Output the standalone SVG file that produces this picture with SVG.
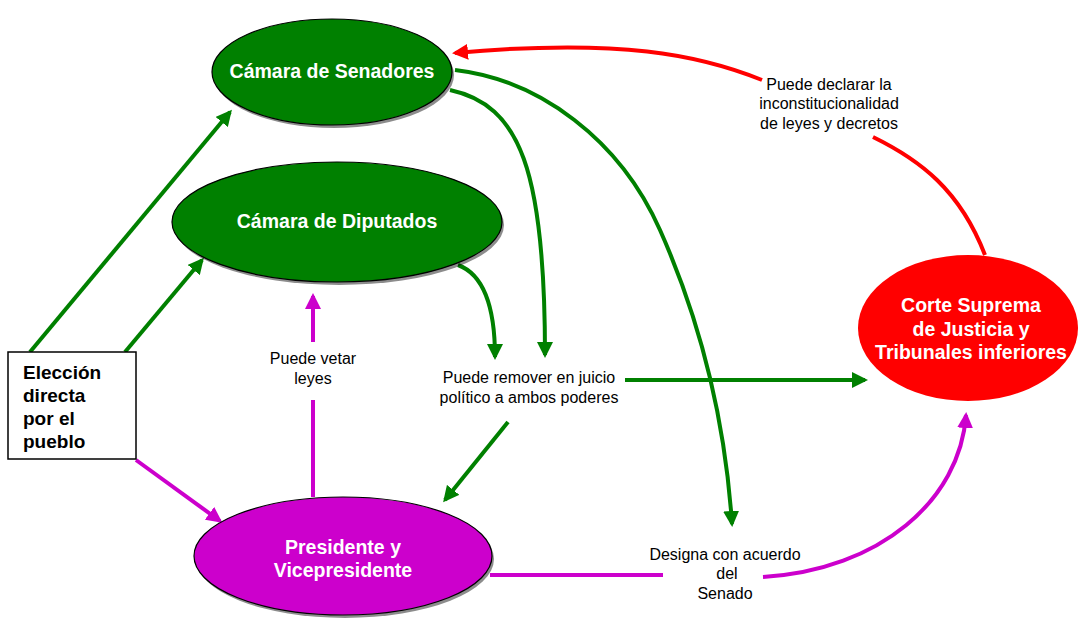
<svg xmlns="http://www.w3.org/2000/svg" width="1078" height="619" viewBox="0 0 1078 619">
<style>
.node{font-family:"Liberation Sans",Arial,sans-serif;font-weight:bold;font-size:19.5px;fill:#fff;text-anchor:middle}
.box{font-family:"Liberation Sans",Arial,sans-serif;font-weight:bold;font-size:19px;fill:#000}
.lbl{font-family:"Liberation Sans",Arial,sans-serif;font-size:16px;fill:#000;text-anchor:middle}
.g{stroke:#008000;stroke-width:4;fill:none}
.m{stroke:#cc00cc;stroke-width:4;fill:none}
.r{stroke:#ff0000;stroke-width:4;fill:none}
.sh{fill:#000;opacity:0.45}
</style>
<defs>
<marker id="ag" markerUnits="userSpaceOnUse" markerWidth="16" markerHeight="16" viewBox="0 0 16 16" refX="13" refY="8" orient="auto"><path d="M0,0 L16,8 L0,16 z" fill="#008000"/></marker>
<marker id="am" markerUnits="userSpaceOnUse" markerWidth="16" markerHeight="16" viewBox="0 0 16 16" refX="13" refY="8" orient="auto"><path d="M0,0 L16,8 L0,16 z" fill="#cc00cc"/></marker>
<marker id="ar" markerUnits="userSpaceOnUse" markerWidth="16" markerHeight="16" viewBox="0 0 16 16" refX="13" refY="8" orient="auto"><path d="M0,0 L16,8 L0,16 z" fill="#ff0000"/></marker>
</defs>
<rect width="1078" height="619" fill="#fff"/>

<g id="connectors">
<path class="g" d="M30,352 L230,112" marker-end="url(#ag)"/>
<path class="g" d="M125,352 L202,260" marker-end="url(#ag)"/>
<path class="m" d="M136,460 L220,521" marker-end="url(#am)"/>
<path class="m" d="M313,497 L313,400"/>
<path class="m" d="M313,342 L313,296" marker-end="url(#am)"/>
<path class="g" d="M458,265 C485,275 495,310 495,357" marker-end="url(#ag)"/>
<path class="g" d="M450,90 C520,105 545,170 545,355" marker-end="url(#ag)"/>
<path class="g" d="M455,70 C540,80 620,140 660,230 C700,320 725,420 732,524" marker-end="url(#ag)"/>
<path class="g" d="M625,380 L865,380" marker-end="url(#ag)"/>
<path class="g" d="M508,422 L445,500" marker-end="url(#ag)"/>
<path class="m" d="M490,575 L663,575"/>
<path class="m" d="M763,577 C880,570 960,500 966,415" marker-end="url(#am)"/>
<path class="r" d="M985,255 C960,190 920,160 873,137"/>
<path class="r" d="M762,80 C700,55 620,38 455,53" marker-end="url(#ar)"/>
</g>

<g id="senadores">
<ellipse class="sh" cx="334" cy="75" rx="120" ry="53"/>
<ellipse cx="332" cy="72" rx="120" ry="53" fill="#008000" stroke="#000" stroke-width="1.2"/>
<text class="node" x="332" y="78">Cámara de Senadores</text>
</g>

<g id="diputados">
<ellipse class="sh" cx="339" cy="225" rx="165" ry="60"/>
<ellipse cx="337" cy="222" rx="165" ry="60" fill="#008000" stroke="#000" stroke-width="1.2"/>
<text class="node" x="337" y="228">Cámara de Diputados</text>
</g>

<g id="presidente">
<ellipse class="sh" cx="345" cy="559" rx="149" ry="59"/>
<ellipse cx="343" cy="556" rx="149" ry="59" fill="#cc00cc" stroke="#000" stroke-width="1.2"/>
<text class="node" x="343" y="554">Presidente y</text>
<text class="node" x="343" y="577">Vicepresidente</text>
</g>

<g id="corte">
<ellipse cx="968" cy="328" rx="110" ry="73" fill="#ff0000"/>
<text class="node" x="971" y="312">Corte Suprema</text>
<text class="node" x="971" y="336">de Justicia y</text>
<text class="node" x="971" y="359">Tribunales inferiores</text>
</g>

<g id="eleccion">
<rect x="8" y="352" width="128" height="107" fill="#fff" stroke="#000" stroke-width="1.5"/>
<text class="box" x="23" y="379">Elección</text>
<text class="box" x="23" y="402">directa</text>
<text class="box" x="23" y="425">por el</text>
<text class="box" x="23" y="448">pueblo</text>
</g>

<g id="label-vetar">
<text class="lbl" x="313" y="364">Puede vetar</text>
<text class="lbl" x="313" y="384">leyes</text>
</g>

<g id="label-remover">
<text class="lbl" x="529" y="383">Puede remover en juicio</text>
<text class="lbl" x="529" y="403">político a ambos poderes</text>
</g>

<g id="label-designa">
<text class="lbl" x="725" y="560">Designa con acuerdo</text>
<text class="lbl" x="727" y="579">del</text>
<text class="lbl" x="725" y="599">Senado</text>
</g>

<g id="label-declarar">
<text class="lbl" x="829" y="90">Puede declarar la</text>
<text class="lbl" x="829" y="109">inconstitucionalidad</text>
<text class="lbl" x="829" y="129">de leyes y decretos</text>
</g>
</svg>
